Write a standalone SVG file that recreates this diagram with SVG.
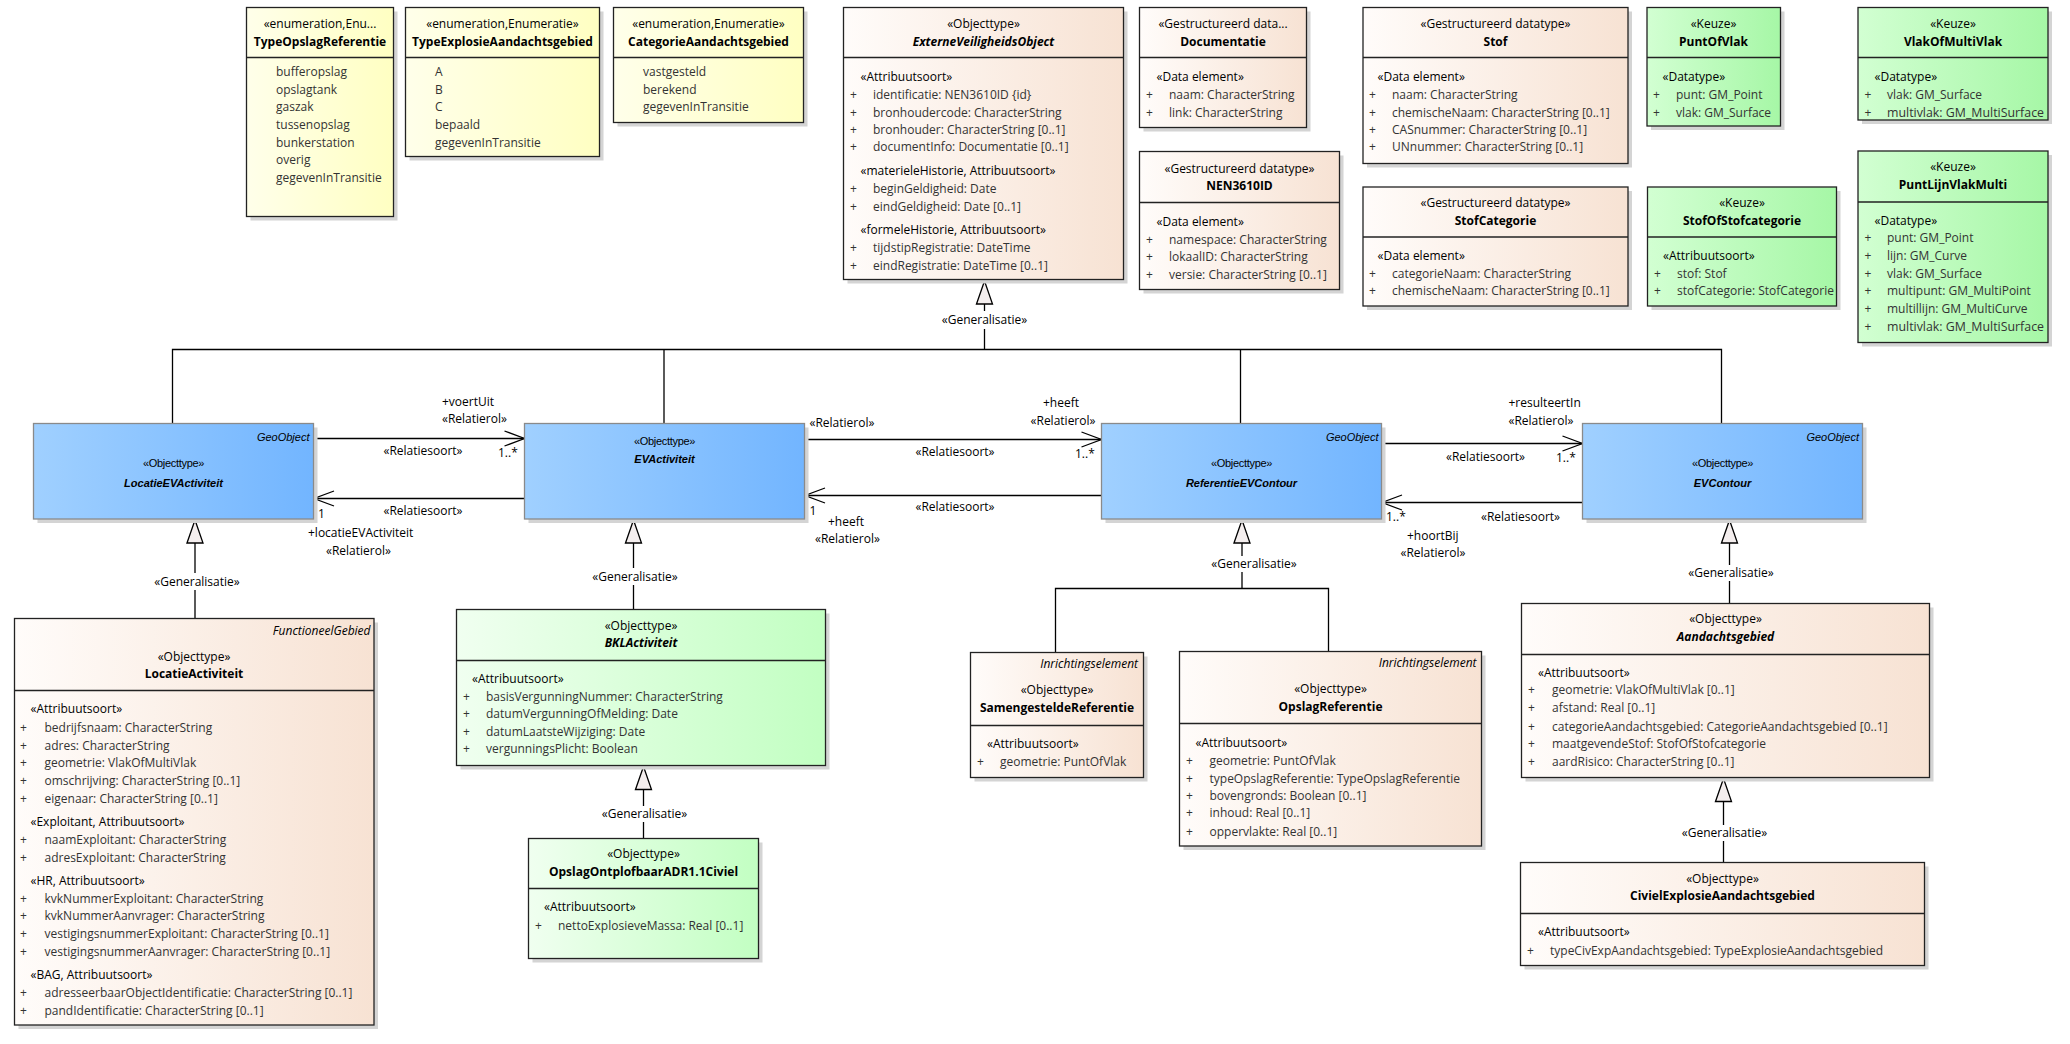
<svg xmlns="http://www.w3.org/2000/svg" width="2070" height="1044" viewBox="0 0 2070 1044">
<defs>
<linearGradient id="gY"><stop offset="0" stop-color="#FFFFEA"/><stop offset="1" stop-color="#FFFFC2"/></linearGradient>
<linearGradient id="gP"><stop offset="0" stop-color="#FFFCFA"/><stop offset="1" stop-color="#F7E2D3"/></linearGradient>
<linearGradient id="gB"><stop offset="0" stop-color="#A0D0FF"/><stop offset="1" stop-color="#72B5FF"/></linearGradient>
<linearGradient id="gL"><stop offset="0" stop-color="#F0FFF0"/><stop offset="1" stop-color="#C2FFC2"/></linearGradient>
<linearGradient id="gG"><stop offset="0" stop-color="#D2FFD2"/><stop offset="1" stop-color="#A6F7A6"/></linearGradient>
<marker id="gen" markerUnits="userSpaceOnUse" markerWidth="25" markerHeight="18" refX="23" refY="8" orient="auto" overflow="visible"><path d="M0,0 L23,8 L0,16 Z" fill="#F4EEEE" stroke="#000" stroke-width="1.3"/></marker>
<marker id="opn" markerUnits="userSpaceOnUse" markerWidth="22" markerHeight="17" refX="20" refY="7.5" orient="auto" overflow="visible"><path d="M0,0 L20,7.5 L0,15" fill="none" stroke="#000" stroke-width="1.3"/></marker>
</defs>
<style>
.f{font-family:"Open Sans","Noto Sans","DejaVu Sans",sans-serif;font-size:12px;fill:#000}
.i{fill:#333}
.c{text-anchor:middle}
.r{text-anchor:end}
.b{font-weight:bold}
.it{font-style:italic}
.a{font-family:"Liberation Sans",Arial,sans-serif;font-size:11px;fill:#000}
.ls{letter-spacing:-0.3px}
.sh{fill:#d4d4d4}
.bx{stroke:#222;stroke-width:1.3}
.bb{stroke:#8a8a8a;stroke-width:1.3}
.dv{stroke:#222;stroke-width:1.3}
.cn{fill:none;stroke:#000;stroke-width:1.3}
</style>
<rect width="2070" height="1044" fill="#fff"/>

<g id="connectors">
<path class="cn" d="M984.5,311 V281" marker-end="url(#gen)"/>
<path class="cn" d="M984.5,329 V349.5"/>
<path class="cn" d="M172.5,423.5 V349.5 H1721.5 V423.5"/>
<path class="cn" d="M664,349.5 V423.5"/>
<path class="cn" d="M1240.5,349.5 V423.5"/>
<path class="cn" d="M195,573 V520" marker-end="url(#gen)"/>
<path class="cn" d="M195,590 V618.5"/>
<path class="cn" d="M633.5,568 V520" marker-end="url(#gen)"/>
<path class="cn" d="M633.5,585 V609.5"/>
<path class="cn" d="M643.5,806 V766.5" marker-end="url(#gen)"/>
<path class="cn" d="M643.5,822 V838.5"/>
<path class="cn" d="M1242,556 V520" marker-end="url(#gen)"/>
<path class="cn" d="M1242,572 V588.5"/>
<path class="cn" d="M1055.5,652.5 V588.5 H1328.5 V651.5"/>
<path class="cn" d="M1729.5,565 V520" marker-end="url(#gen)"/>
<path class="cn" d="M1729.5,581 V603.5"/>
<path class="cn" d="M1723.5,825 V778.5" marker-end="url(#gen)"/>
<path class="cn" d="M1723.5,841 V862.5"/>
<path class="cn" d="M314,438.5 H524.5" marker-end="url(#opn)"/>
<path class="cn" d="M524.5,498.5 H314" marker-end="url(#opn)"/>
<path class="cn" d="M805,439.5 H1101.5" marker-end="url(#opn)"/>
<path class="cn" d="M1101.5,495.5 H805" marker-end="url(#opn)"/>
<path class="cn" d="M1382,443.5 H1582.5" marker-end="url(#opn)"/>
<path class="cn" d="M1582.5,502.5 H1382" marker-end="url(#opn)"/>
<text class="f c" x="984.5" y="324">«Generalisatie»</text>
<text class="f c" x="197" y="586">«Generalisatie»</text>
<text class="f c" x="635" y="581">«Generalisatie»</text>
<text class="f c" x="644.5" y="818">«Generalisatie»</text>
<text class="f c" x="1254" y="568">«Generalisatie»</text>
<text class="f c" x="1731" y="577">«Generalisatie»</text>
<text class="f c" x="1724.5" y="837">«Generalisatie»</text>
<text class="f" x="442" y="406">+voertUit</text>
<text class="f" x="442" y="423">«Relatierol»</text>
<text class="f c" x="423" y="455">«Relatiesoort»</text>
<text class="f" x="498" y="457">1..*</text>
<text class="f c" x="423" y="515">«Relatiesoort»</text>
<text class="f" x="318" y="518">1</text>
<text class="f" x="308" y="537">+locatieEVActiviteit</text>
<text class="f" x="326" y="555">«Relatierol»</text>
<text class="f" x="809.5" y="427">«Relatierol»</text>
<text class="f c" x="1061" y="407">+heeft</text>
<text class="f c" x="1063" y="425">«Relatierol»</text>
<text class="f c" x="955" y="456">«Relatiesoort»</text>
<text class="f" x="1075" y="458">1..*</text>
<text class="f c" x="955" y="511">«Relatiesoort»</text>
<text class="f" x="809.5" y="515">1</text>
<text class="f" x="828" y="526">+heeft</text>
<text class="f" x="815" y="543">«Relatierol»</text>
<text class="f" x="1508.5" y="407">+resulteertIn</text>
<text class="f" x="1508.5" y="425">«Relatierol»</text>
<text class="f c" x="1485.5" y="461">«Relatiesoort»</text>
<text class="f" x="1556" y="462">1..*</text>
<text class="f" x="1386" y="521">1..*</text>
<text class="f c" x="1520.5" y="521">«Relatiesoort»</text>
<text class="f" x="1407" y="540">+hoortBij</text>
<text class="f" x="1400.5" y="557">«Relatierol»</text>
</g>

<g id="TypeOpslagReferentie">
<rect class="sh" x="250.5" y="11.5" width="147" height="209"/>
<rect class="bx" x="246.5" y="7.5" width="147" height="209" fill="url(#gY)"/>
<line class="dv" x1="246.5" y1="57.5" x2="393.5" y2="57.5"/>
<text class="f c" x="320" y="28">«enumeration,Enu...</text>
<text class="f c b" x="320" y="46">TypeOpslagReferentie</text>
<text class="f i" x="276" y="76">bufferopslag</text>
<text class="f i" x="276" y="94">opslagtank</text>
<text class="f i" x="276" y="111">gaszak</text>
<text class="f i" x="276" y="129">tussenopslag</text>
<text class="f i" x="276" y="147">bunkerstation</text>
<text class="f i" x="276" y="164">overig</text>
<text class="f i" x="276" y="182">gegevenInTransitie</text>
</g>

<g id="TypeExplosieAandachtsgebied">
<rect class="sh" x="409.5" y="11.5" width="194" height="149"/>
<rect class="bx" x="405.5" y="7.5" width="194" height="149" fill="url(#gY)"/>
<line class="dv" x1="405.5" y1="57.5" x2="599.5" y2="57.5"/>
<text class="f c" x="502.5" y="28">«enumeration,Enumeratie»</text>
<text class="f c b" x="502.5" y="46">TypeExplosieAandachtsgebied</text>
<text class="f i" x="435" y="76">A</text>
<text class="f i" x="435" y="94">B</text>
<text class="f i" x="435" y="111">C</text>
<text class="f i" x="435" y="129">bepaald</text>
<text class="f i" x="435" y="147">gegevenInTransitie</text>
</g>

<g id="CategorieAandachtsgebied">
<rect class="sh" x="617.5" y="11.5" width="190" height="115"/>
<rect class="bx" x="613.5" y="7.5" width="190" height="115" fill="url(#gY)"/>
<line class="dv" x1="613.5" y1="57.5" x2="803.5" y2="57.5"/>
<text class="f c" x="708.5" y="28">«enumeration,Enumeratie»</text>
<text class="f c b" x="708.5" y="46">CategorieAandachtsgebied</text>
<text class="f i" x="643" y="76">vastgesteld</text>
<text class="f i" x="643" y="94">berekend</text>
<text class="f i" x="643" y="111">gegevenInTransitie</text>
</g>

<g id="ExterneVeiligheidsObject">
<rect class="sh" x="847.5" y="11.5" width="280" height="272"/>
<rect class="bx" x="843.5" y="7.5" width="280" height="272" fill="url(#gP)"/>
<line class="dv" x1="843.5" y1="57.5" x2="1123.5" y2="57.5"/>
<text class="f c" x="983.5" y="28">«Objecttype»</text>
<text class="f c b it" x="983.5" y="46">ExterneVeiligheidsObject</text>
<text class="f" x="860.5" y="81">«Attribuutsoort»</text>
<text class="f i" x="850" y="99">+</text><text class="f i" x="873" y="99">identificatie: NEN3610ID {id}</text>
<text class="f i" x="850" y="117">+</text><text class="f i" x="873" y="117">bronhoudercode: CharacterString</text>
<text class="f i" x="850" y="134">+</text><text class="f i" x="873" y="134">bronhouder: CharacterString [0..1]</text>
<text class="f i" x="850" y="151">+</text><text class="f i" x="873" y="151">documentInfo: Documentatie [0..1]</text>
<text class="f" x="860.5" y="175">«materieleHistorie, Attribuutsoort»</text>
<text class="f i" x="850" y="193">+</text><text class="f i" x="873" y="193">beginGeldigheid: Date</text>
<text class="f i" x="850" y="211">+</text><text class="f i" x="873" y="211">eindGeldigheid: Date [0..1]</text>
<text class="f" x="860.5" y="234">«formeleHistorie, Attribuutsoort»</text>
<text class="f i" x="850" y="252">+</text><text class="f i" x="873" y="252">tijdstipRegistratie: DateTime</text>
<text class="f i" x="850" y="270">+</text><text class="f i" x="873" y="270">eindRegistratie: DateTime [0..1]</text>
</g>

<g id="Documentatie">
<rect class="sh" x="1143.5" y="11.5" width="167" height="120"/>
<rect class="bx" x="1139.5" y="7.5" width="167" height="120" fill="url(#gP)"/>
<line class="dv" x1="1139.5" y1="57.5" x2="1306.5" y2="57.5"/>
<text class="f c" x="1223" y="28">«Gestructureerd data...</text>
<text class="f c b" x="1223" y="46">Documentatie</text>
<text class="f" x="1156.5" y="81">«Data element»</text>
<text class="f i" x="1146" y="99">+</text><text class="f i" x="1169" y="99">naam: CharacterString</text>
<text class="f i" x="1146" y="117">+</text><text class="f i" x="1169" y="117">link: CharacterString</text>
</g>

<g id="NEN3610ID">
<rect class="sh" x="1143.5" y="155.5" width="200" height="138"/>
<rect class="bx" x="1139.5" y="151.5" width="200" height="138" fill="url(#gP)"/>
<line class="dv" x1="1139.5" y1="202.5" x2="1339.5" y2="202.5"/>
<text class="f c" x="1239.5" y="173">«Gestructureerd datatype»</text>
<text class="f c b" x="1239.5" y="190">NEN3610ID</text>
<text class="f" x="1156.5" y="226">«Data element»</text>
<text class="f i" x="1146" y="244">+</text><text class="f i" x="1169" y="244">namespace: CharacterString</text>
<text class="f i" x="1146" y="261">+</text><text class="f i" x="1169" y="261">lokaalID: CharacterString</text>
<text class="f i" x="1146" y="279">+</text><text class="f i" x="1169" y="279">versie: CharacterString [0..1]</text>
</g>

<g id="Stof">
<rect class="sh" x="1367" y="11.5" width="265" height="156"/>
<rect class="bx" x="1363" y="7.5" width="265" height="156" fill="url(#gP)"/>
<line class="dv" x1="1363" y1="57.5" x2="1628" y2="57.5"/>
<text class="f c" x="1495.5" y="28">«Gestructureerd datatype»</text>
<text class="f c b" x="1495.5" y="46">Stof</text>
<text class="f" x="1377.5" y="81">«Data element»</text>
<text class="f i" x="1369" y="99">+</text><text class="f i" x="1392" y="99">naam: CharacterString</text>
<text class="f i" x="1369" y="117">+</text><text class="f i" x="1392" y="117">chemischeNaam: CharacterString [0..1]</text>
<text class="f i" x="1369" y="134">+</text><text class="f i" x="1392" y="134">CASnummer: CharacterString [0..1]</text>
<text class="f i" x="1369" y="151">+</text><text class="f i" x="1392" y="151">UNnummer: CharacterString [0..1]</text>
</g>

<g id="StofCategorie">
<rect class="sh" x="1367" y="191" width="265" height="119"/>
<rect class="bx" x="1363" y="187" width="265" height="119" fill="url(#gP)"/>
<line class="dv" x1="1363" y1="237" x2="1628" y2="237"/>
<text class="f c" x="1495.5" y="207">«Gestructureerd datatype»</text>
<text class="f c b" x="1495.5" y="225">StofCategorie</text>
<text class="f" x="1377.5" y="260">«Data element»</text>
<text class="f i" x="1369" y="278">+</text><text class="f i" x="1392" y="278">categorieNaam: CharacterString</text>
<text class="f i" x="1369" y="295">+</text><text class="f i" x="1392" y="295">chemischeNaam: CharacterString [0..1]</text>
</g>

<g id="PuntOfVlak">
<rect class="sh" x="1651" y="11.5" width="133.5" height="118.5"/>
<rect class="bx" x="1647" y="7.5" width="133.5" height="118.5" fill="url(#gG)"/>
<line class="dv" x1="1647" y1="57.5" x2="1780.5" y2="57.5"/>
<text class="f c" x="1713.5" y="28">«Keuze»</text>
<text class="f c b" x="1713.5" y="46">PuntOfVlak</text>
<text class="f" x="1662.5" y="81">«Datatype»</text>
<text class="f i" x="1653" y="99">+</text><text class="f i" x="1676" y="99">punt: GM_Point</text>
<text class="f i" x="1653" y="117">+</text><text class="f i" x="1676" y="117">vlak: GM_Surface</text>
</g>

<g id="VlakOfMultiVlak">
<rect class="sh" x="1862" y="11.5" width="190" height="112.5"/>
<rect class="bx" x="1858" y="7.5" width="190" height="112.5" fill="url(#gG)"/>
<line class="dv" x1="1858" y1="57.5" x2="2048" y2="57.5"/>
<text class="f c" x="1953" y="28">«Keuze»</text>
<text class="f c b" x="1953" y="46">VlakOfMultiVlak</text>
<text class="f" x="1874.5" y="81">«Datatype»</text>
<text class="f i" x="1864.5" y="99">+</text><text class="f i" x="1887" y="99">vlak: GM_Surface</text>
<text class="f i" x="1864.5" y="117">+</text><text class="f i" x="1887" y="117" textLength="157" lengthAdjust="spacingAndGlyphs">multivlak: GM_MultiSurface</text>
</g>

<g id="PuntLijnVlakMulti">
<rect class="sh" x="1862" y="155" width="190" height="191.5"/>
<rect class="bx" x="1858" y="151" width="190" height="191.5" fill="url(#gG)"/>
<line class="dv" x1="1858" y1="202" x2="2048" y2="202"/>
<text class="f c" x="1953" y="171">«Keuze»</text>
<text class="f c b" x="1953" y="189">PuntLijnVlakMulti</text>
<text class="f" x="1874.5" y="225">«Datatype»</text>
<text class="f i" x="1864.5" y="242">+</text><text class="f i" x="1887" y="242">punt: GM_Point</text>
<text class="f i" x="1864.5" y="260">+</text><text class="f i" x="1887" y="260">lijn: GM_Curve</text>
<text class="f i" x="1864.5" y="278">+</text><text class="f i" x="1887" y="278">vlak: GM_Surface</text>
<text class="f i" x="1864.5" y="295">+</text><text class="f i" x="1887" y="295">multipunt: GM_MultiPoint</text>
<text class="f i" x="1864.5" y="313">+</text><text class="f i" x="1887" y="313">multillijn: GM_MultiCurve</text>
<text class="f i" x="1864.5" y="331">+</text><text class="f i" x="1887" y="331" textLength="157" lengthAdjust="spacingAndGlyphs">multivlak: GM_MultiSurface</text>
</g>

<g id="StofOfStofcategorie">
<rect class="sh" x="1651.5" y="191" width="189" height="119"/>
<rect class="bx" x="1647.5" y="187" width="189" height="119" fill="url(#gG)"/>
<line class="dv" x1="1647.5" y1="237" x2="1836.5" y2="237"/>
<text class="f c" x="1742" y="207">«Keuze»</text>
<text class="f c b" x="1742" y="225">StofOfStofcategorie</text>
<text class="f" x="1663" y="260">«Attribuutsoort»</text>
<text class="f i" x="1654" y="278">+</text><text class="f i" x="1677" y="278">stof: Stof</text>
<text class="f i" x="1654" y="295">+</text><text class="f i" x="1677" y="295" textLength="157" lengthAdjust="spacingAndGlyphs">stofCategorie: StofCategorie</text>
</g>

<g id="LocatieEVActiviteit">
<rect class="sh" x="37.5" y="427.5" width="280" height="95.5"/>
<rect class="bb" x="33.5" y="423.5" width="280" height="95.5" fill="url(#gB)"/>
<text class="a it r" x="309.5" y="441">GeoObject</text>
<text class="a c ls" x="173.5" y="467">«Objecttype»</text>
<text class="a c b it" x="173.5" y="487">LocatieEVActiviteit</text>
</g>

<g id="EVActiviteit">
<rect class="sh" x="528.5" y="427.5" width="280" height="95.5"/>
<rect class="bb" x="524.5" y="423.5" width="280" height="95.5" fill="url(#gB)"/>
<text class="a c ls" x="664.5" y="445">«Objecttype»</text>
<text class="a c b it" x="664.5" y="463">EVActiviteit</text>
</g>

<g id="ReferentieEVContour">
<rect class="sh" x="1105.5" y="427.5" width="280" height="95.5"/>
<rect class="bb" x="1101.5" y="423.5" width="280" height="95.5" fill="url(#gB)"/>
<text class="a it r" x="1378.5" y="441">GeoObject</text>
<text class="a c ls" x="1241.5" y="467">«Objecttype»</text>
<text class="a c b it" x="1241.5" y="487">ReferentieEVContour</text>
</g>

<g id="EVContour">
<rect class="sh" x="1586.5" y="427.5" width="280" height="95.5"/>
<rect class="bb" x="1582.5" y="423.5" width="280" height="95.5" fill="url(#gB)"/>
<text class="a it r" x="1859" y="441">GeoObject</text>
<text class="a c ls" x="1722.5" y="467">«Objecttype»</text>
<text class="a c b it" x="1722.5" y="487">EVContour</text>
</g>

<g id="LocatieActiviteit">
<rect class="sh" x="18.5" y="622.5" width="359.5" height="406.5"/>
<rect class="bx" x="14.5" y="618.5" width="359.5" height="406.5" fill="url(#gP)"/>
<line class="dv" x1="14.5" y1="690.5" x2="374" y2="690.5"/>
<text class="f it r" x="370.5" y="635">FunctioneelGebied</text>
<text class="f c" x="194" y="661">«Objecttype»</text>
<text class="f c b" x="194" y="678">LocatieActiviteit</text>
<text class="f" x="30.5" y="713">«Attribuutsoort»</text>
<text class="f i" x="20" y="732">+</text><text class="f i" x="44.5" y="732">bedrijfsnaam: CharacterString</text>
<text class="f i" x="20" y="750">+</text><text class="f i" x="44.5" y="750">adres: CharacterString</text>
<text class="f i" x="20" y="767">+</text><text class="f i" x="44.5" y="767">geometrie: VlakOfMultiVlak</text>
<text class="f i" x="20" y="785">+</text><text class="f i" x="44.5" y="785">omschrijving: CharacterString [0..1]</text>
<text class="f i" x="20" y="803">+</text><text class="f i" x="44.5" y="803">eigenaar: CharacterString [0..1]</text>
<text class="f" x="30.5" y="826">«Exploitant, Attribuutsoort»</text>
<text class="f i" x="20" y="844">+</text><text class="f i" x="44.5" y="844">naamExploitant: CharacterString</text>
<text class="f i" x="20" y="862">+</text><text class="f i" x="44.5" y="862">adresExploitant: CharacterString</text>
<text class="f" x="30.5" y="885">«HR, Attribuutsoort»</text>
<text class="f i" x="20" y="903">+</text><text class="f i" x="44.5" y="903">kvkNummerExploitant: CharacterString</text>
<text class="f i" x="20" y="920">+</text><text class="f i" x="44.5" y="920">kvkNummerAanvrager: CharacterString</text>
<text class="f i" x="20" y="938">+</text><text class="f i" x="44.5" y="938">vestigingsnummerExploitant: CharacterString [0..1]</text>
<text class="f i" x="20" y="956">+</text><text class="f i" x="44.5" y="956">vestigingsnummerAanvrager: CharacterString [0..1]</text>
<text class="f" x="30.5" y="979">«BAG, Attribuutsoort»</text>
<text class="f i" x="20" y="997">+</text><text class="f i" x="44.5" y="997">adresseerbaarObjectIdentificatie: CharacterString [0..1]</text>
<text class="f i" x="20" y="1015">+</text><text class="f i" x="44.5" y="1015">pandIdentificatie: CharacterString [0..1]</text>
</g>

<g id="BKLActiviteit">
<rect class="sh" x="460.5" y="613.5" width="369" height="156"/>
<rect class="bx" x="456.5" y="609.5" width="369" height="156" fill="url(#gL)"/>
<line class="dv" x1="456.5" y1="660.5" x2="825.5" y2="660.5"/>
<text class="f c" x="641" y="630">«Objecttype»</text>
<text class="f c b it" x="641" y="647">BKLActiviteit</text>
<text class="f" x="472" y="683">«Attribuutsoort»</text>
<text class="f i" x="463" y="701">+</text><text class="f i" x="486" y="701">basisVergunningNummer: CharacterString</text>
<text class="f i" x="463" y="718">+</text><text class="f i" x="486" y="718">datumVergunningOfMelding: Date</text>
<text class="f i" x="463" y="736">+</text><text class="f i" x="486" y="736">datumLaatsteWijziging: Date</text>
<text class="f i" x="463" y="753">+</text><text class="f i" x="486" y="753">vergunningsPlicht: Boolean</text>
</g>

<g id="OpslagOntplofbaarADR1.1Civiel">
<rect class="sh" x="532.5" y="842.5" width="230" height="120"/>
<rect class="bx" x="528.5" y="838.5" width="230" height="120" fill="url(#gL)"/>
<line class="dv" x1="528.5" y1="888.5" x2="758.5" y2="888.5"/>
<text class="f c" x="643.5" y="858">«Objecttype»</text>
<text class="f c b" x="643.5" y="876">OpslagOntplofbaarADR1.1Civiel</text>
<text class="f" x="544" y="911">«Attribuutsoort»</text>
<text class="f i" x="535" y="930">+</text><text class="f i" x="558" y="930">nettoExplosieveMassa: Real [0..1]</text>
</g>

<g id="SamengesteldeReferentie">
<rect class="sh" x="974.5" y="656.5" width="173" height="125"/>
<rect class="bx" x="970.5" y="652.5" width="173" height="125" fill="url(#gP)"/>
<line class="dv" x1="970.5" y1="725.5" x2="1143.5" y2="725.5"/>
<text class="f it r" x="1138" y="668">Inrichtingselement</text>
<text class="f c" x="1057" y="694">«Objecttype»</text>
<text class="f c b" x="1057" y="712">SamengesteldeReferentie</text>
<text class="f" x="987" y="748">«Attribuutsoort»</text>
<text class="f i" x="977" y="766">+</text><text class="f i" x="1000" y="766">geometrie: PuntOfVlak</text>
</g>

<g id="OpslagReferentie">
<rect class="sh" x="1183.5" y="655.5" width="302" height="194.5"/>
<rect class="bx" x="1179.5" y="651.5" width="302" height="194.5" fill="url(#gP)"/>
<line class="dv" x1="1179.5" y1="723.5" x2="1481.5" y2="723.5"/>
<text class="f it r" x="1476.5" y="667">Inrichtingselement</text>
<text class="f c" x="1330.5" y="693">«Objecttype»</text>
<text class="f c b" x="1330.5" y="711">OpslagReferentie</text>
<text class="f" x="1195.5" y="747">«Attribuutsoort»</text>
<text class="f i" x="1186" y="765">+</text><text class="f i" x="1209.5" y="765">geometrie: PuntOfVlak</text>
<text class="f i" x="1186" y="783">+</text><text class="f i" x="1209.5" y="783">typeOpslagReferentie: TypeOpslagReferentie</text>
<text class="f i" x="1186" y="800">+</text><text class="f i" x="1209.5" y="800">bovengronds: Boolean [0..1]</text>
<text class="f i" x="1186" y="817">+</text><text class="f i" x="1209.5" y="817">inhoud: Real [0..1]</text>
<text class="f i" x="1186" y="836">+</text><text class="f i" x="1209.5" y="836">oppervlakte: Real [0..1]</text>
</g>

<g id="Aandachtsgebied">
<rect class="sh" x="1525.5" y="607.5" width="408" height="174"/>
<rect class="bx" x="1521.5" y="603.5" width="408" height="174" fill="url(#gP)"/>
<line class="dv" x1="1521.5" y1="654.5" x2="1929.5" y2="654.5"/>
<text class="f c" x="1725.5" y="623">«Objecttype»</text>
<text class="f c b it" x="1725.5" y="641">Aandachtsgebied</text>
<text class="f" x="1538" y="677">«Attribuutsoort»</text>
<text class="f i" x="1528" y="694">+</text><text class="f i" x="1552" y="694">geometrie: VlakOfMultiVlak [0..1]</text>
<text class="f i" x="1528" y="712">+</text><text class="f i" x="1552" y="712">afstand: Real [0..1]</text>
<text class="f i" x="1528" y="731">+</text><text class="f i" x="1552" y="731">categorieAandachtsgebied: CategorieAandachtsgebied [0..1]</text>
<text class="f i" x="1528" y="748">+</text><text class="f i" x="1552" y="748">maatgevendeStof: StofOfStofcategorie</text>
<text class="f i" x="1528" y="766">+</text><text class="f i" x="1552" y="766">aardRisico: CharacterString [0..1]</text>
</g>

<g id="CivielExplosieAandachtsgebied">
<rect class="sh" x="1524.5" y="866.5" width="404" height="103"/>
<rect class="bx" x="1520.5" y="862.5" width="404" height="103" fill="url(#gP)"/>
<line class="dv" x1="1520.5" y1="913.5" x2="1924.5" y2="913.5"/>
<text class="f c" x="1722.5" y="883">«Objecttype»</text>
<text class="f c b" x="1722.5" y="900">CivielExplosieAandachtsgebied</text>
<text class="f" x="1538" y="936">«Attribuutsoort»</text>
<text class="f i" x="1527" y="955">+</text><text class="f i" x="1550" y="955">typeCivExpAandachtsgebied: TypeExplosieAandachtsgebied</text>
</g>
</svg>
